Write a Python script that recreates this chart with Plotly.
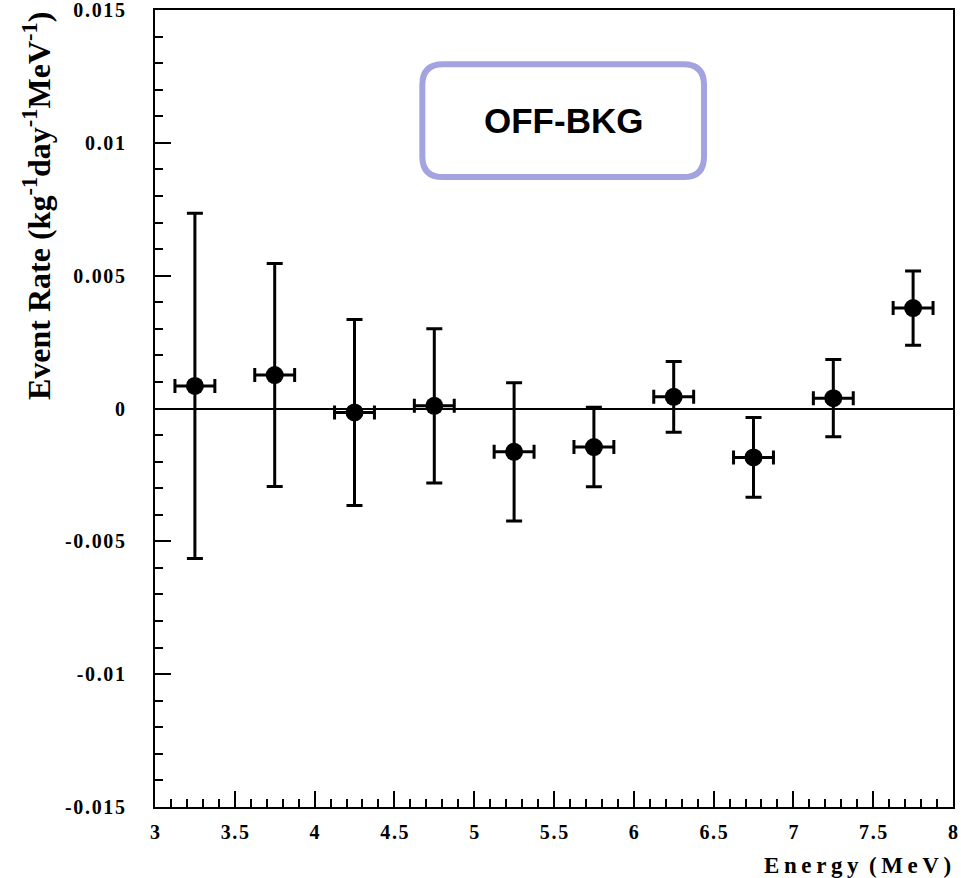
import plotly.graph_objects as go

# Energy bin centres (MeV), half bin width, measured rates and their errors
energy = [3.25, 3.75, 4.25, 4.75, 5.25, 5.75, 6.25, 6.75, 7.25, 7.75]
bin_half_width = [0.125] * 10
rate = [0.00085, 0.00126, -0.00015, 0.0001, -0.00163, -0.00145, 0.00044, -0.00184, 0.00039, 0.00378]
rate_err = [0.0065, 0.0042, 0.0035, 0.0029, 0.0026, 0.0015, 0.00133, 0.0015, 0.00145, 0.0014]

x_ticks = [3, 3.5, 4, 4.5, 5, 5.5, 6, 6.5, 7, 7.5, 8]
y_ticks = [-0.015, -0.01, -0.005, 0, 0.005, 0.01, 0.015]
y_tick_text = ["-0.015", "-0.01", "-0.005", "0", "0.005", "0.01", "0.015"]

HAIR = "\u200a"
THIN = "\u2009"


def spaced(s, sep=HAIR):
    return sep.join(list(s))


serif = dict(family="Liberation Serif", color="black", size=20, weight="bold")

fig = go.Figure()
fig.add_trace(go.Scatter(
    x=energy, y=rate, mode="markers",
    marker=dict(symbol="circle", size=18, color="black"),
    error_x=dict(type="data", array=bin_half_width, color="black", thickness=3, width=7),
    error_y=dict(type="data", array=rate_err, color="black", thickness=3, width=8),
    showlegend=False,
))

# Label box with rounded corners
bx0, bx1, by0, by1 = 4.675, 6.44, 0.00871, 0.01296
rx, ry = 0.13, 0.00078
path = (
    f"M {bx0 + rx},{by1} L {bx1 - rx},{by1} Q {bx1},{by1} {bx1},{by1 - ry} "
    f"L {bx1},{by0 + ry} Q {bx1},{by0} {bx1 - rx},{by0} "
    f"L {bx0 + rx},{by0} Q {bx0},{by0} {bx0},{by0 + ry} "
    f"L {bx0},{by1 - ry} Q {bx0},{by1} {bx0 + rx},{by1} Z"
)
fig.add_shape(type="path", path=path, xref="x", yref="y",
              line=dict(color="#a3a3df", width=6), fillcolor="white", layer="above")
fig.add_annotation(x=(bx0 + bx1) / 2, y=(by0 + by1) / 2, xref="x", yref="y",
                   text="OFF-BKG", showarrow=False,
                   font=dict(family="Liberation Sans", size=35, color="black", weight="bold"))

# Axis titles
fig.add_annotation(x=1.0, y=0, xref="paper", yref="paper", xanchor="right", yanchor="bottom",
                   yshift=-73, text=spaced("Energy", THIN) + THIN + " " + spaced("(MeV)", THIN),
                   showarrow=False,
                   font=dict(family="Liberation Serif", size=23, color="black", weight="bold"))
fig.add_annotation(x=0, y=1.0, xref="paper", yref="paper", xanchor="center", yanchor="top",
                   xshift=-118, textangle=-90,
                   text="Event Rate (kg<sup>-1</sup>day<sup>-1</sup>MeV<sup>-1</sup>)",
                   showarrow=False,
                   font=dict(family="Liberation Serif", size=32, color="black", weight="bold"))

fig.update_layout(
    width=961, height=878,
    margin=dict(l=155, r=8, t=10, b=71, autoexpand=False),
    plot_bgcolor="white", paper_bgcolor="white",
)
eps = 1e-9
fig.update_xaxes(
    range=[3 - eps, 8 + eps], showgrid=False, zeroline=False, automargin=False,
    showline=True, linecolor="black", linewidth=2, mirror=True,
    ticks="inside", ticklen=16, tickwidth=2, tickcolor="black",
    tickvals=x_ticks, ticktext=[spaced(str(v)) for v in x_ticks],
    minor=dict(ticks="inside", ticklen=8, tickwidth=2, tickcolor="black", dtick=0.1, showgrid=False),
    tickfont=serif, ticklabelstandoff=6, ticklabeloverflow="allow",
)
fig.update_yaxes(
    range=[-0.015 - eps, 0.015 + eps], showgrid=False, automargin=False,
    zeroline=True, zerolinecolor="black", zerolinewidth=2,
    showline=True, linecolor="black", linewidth=2, mirror=True,
    ticks="inside", ticklen=16, tickwidth=2, tickcolor="black",
    tickvals=y_ticks, ticktext=[spaced(t) for t in y_tick_text],
    minor=dict(ticks="inside", ticklen=8, tickwidth=2, tickcolor="black", dtick=0.001, showgrid=False),
    tickfont=serif, ticklabelstandoff=24, ticklabeloverflow="allow",
)

fig.write_html("out.html")
